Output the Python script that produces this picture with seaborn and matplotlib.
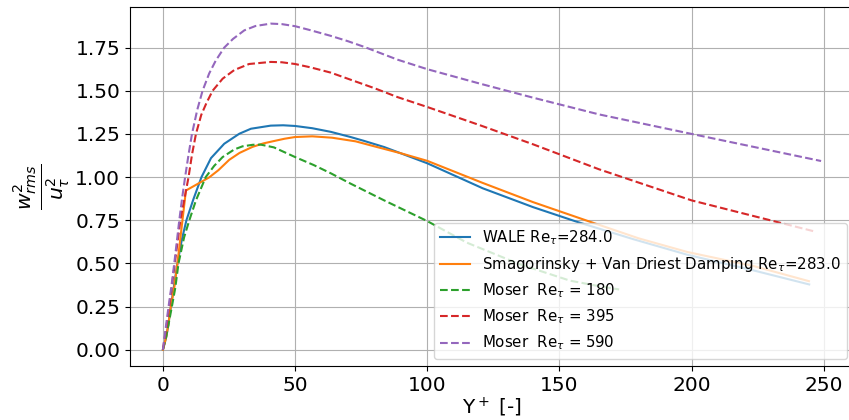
import matplotlib
matplotlib.use("Agg")
import matplotlib.pyplot as plt
import seaborn as sns

# Spanwise velocity fluctuation profiles, w_rms^2 / u_tau^2 against y+
wale_y = [0, 1.2, 2.0, 3.0, 4.3, 5.5, 7.2, 8.9, 11.5, 14.6, 18.2, 23.2, 28.9,
          33.3, 40.8, 45.5, 50.0, 56.5, 63.5, 71.0, 76.0, 83.7, 100.0, 121.0,
          140.0, 157.0, 178.0, 198.4, 223.5, 244.5]
wale_w = [0.0, 0.07, 0.14, 0.25, 0.38, 0.50, 0.64, 0.75, 0.87, 1.0, 1.11, 1.193,
          1.251, 1.28, 1.298, 1.30, 1.296, 1.283, 1.262, 1.232, 1.21, 1.174,
          1.08, 0.935, 0.826, 0.739, 0.64, 0.55, 0.459, 0.378]

smag_y = [0, 1.2, 2.0, 3.0, 4.3, 5.5, 7.4, 8.7, 13.1, 17.5, 21.0, 25.1, 29.0,
          33.9, 38.0, 41.5, 46.0, 50.0, 56.5, 64.0, 72.9, 80.0, 90.0, 100.0,
          121.0, 140.0, 162.0, 180.0, 198.4, 223.6, 244.4]
smag_w = [0.0, 0.07, 0.14, 0.25, 0.36, 0.50, 0.75, 0.922, 0.96, 0.998, 1.04,
          1.10, 1.14, 1.175, 1.195, 1.207, 1.222, 1.232, 1.236, 1.228, 1.207,
          1.178, 1.138, 1.094, 0.966, 0.855, 0.739, 0.645, 0.566, 0.484, 0.397]

m180_y = [0, 1.3, 3.4, 4.7, 5.9, 8.0, 10.0, 12.5, 16.2, 19.4, 22.6, 27.0, 30.1,
          34.0, 37.0, 42.0, 50.0, 57.0, 63.5, 71.0, 83.7, 100.0, 115.0, 135.0,
          154.0, 165.0, 172.6]
m180_w = [0.0, 0.08, 0.25, 0.36, 0.50, 0.65, 0.75, 0.865, 1.0, 1.065, 1.116,
          1.16, 1.178, 1.187, 1.188, 1.172, 1.116, 1.07, 1.022, 0.962, 0.865,
          0.745, 0.62, 0.495, 0.40, 0.368, 0.349]

m395_y = [0, 1.2, 2.4, 4.5, 6.6, 8.1, 9.7, 11.0, 12.5, 14.5, 16.5, 18.8, 22.6,
          27.0, 32.6, 40.8, 45.0, 50.0, 56.0, 63.5, 71.0, 80.0, 88.8, 100.0,
          120.0, 140.0, 165.0, 200.0, 231.0, 246.0]
m395_w = [0.0, 0.12, 0.25, 0.50, 0.75, 0.87, 1.0, 1.13, 1.25, 1.36, 1.43, 1.50,
          1.57, 1.62, 1.655, 1.667, 1.665, 1.655, 1.635, 1.605, 1.564, 1.515,
          1.463, 1.406, 1.30, 1.19, 1.045, 0.865, 0.745, 0.687]

m590_y = [0, 1.0, 2.14, 3.15, 4.3, 6.2, 7.2, 8.4, 9.7, 11.0, 13.0, 15.0, 17.5,
          20.0, 23.2, 26.5, 30.8, 35.0, 40.8, 45.0, 50.0, 56.0, 63.5, 70.0,
          76.0, 88.8, 100.0, 120.0, 140.0, 165.0, 200.0, 225.0, 249.0]
m590_w = [0.0, 0.12, 0.25, 0.36, 0.50, 0.75, 0.87, 1.0, 1.13, 1.25, 1.39, 1.50,
          1.60, 1.675, 1.75, 1.80, 1.85, 1.875, 1.889, 1.886, 1.874, 1.85,
          1.818, 1.787, 1.755, 1.68, 1.625, 1.541, 1.46, 1.363, 1.25, 1.17, 1.093]

labels = [
    r"WALE Re$_\tau$=284.0",
    r"Smagorinsky + Van Driest Damping Re$_\tau$=283.0",
    r"Moser  Re$_\tau$ = 180",
    r"Moser  Re$_\tau$ = 395",
    r"Moser  Re$_\tau$ = 590",
]

fig = plt.figure(figsize=(8.49, 4.20), dpi=100)
ax = fig.add_axes([130 / 849, 1 - 366 / 420, 724 / 849, 358.7 / 420])

series = [
    (wale_y, wale_w, "C0", "-"),
    (smag_y, smag_w, "C1", "-"),
    (m180_y, m180_w, "C2", "--"),
    (m395_y, m395_w, "C3", "--"),
    (m590_y, m590_w, "C4", "--"),
]
for (yp, w2, color, ls), lab in zip(series, labels):
    sns.lineplot(x=yp, y=w2, ax=ax, color=color, linestyle=ls, linewidth=1.5,
                 label=lab, estimator=None, sort=False)

ax.grid(True, color="#b0b0b0", linewidth=0.8)
ax.set_axisbelow(True)
ax.tick_params(labelsize=14.5)
ax.set_xticks([0, 50, 100, 150, 200, 250])
ax.set_yticks([0.0, 0.25, 0.5, 0.75, 1.0, 1.25, 1.5, 1.75])
ax.set_xlabel(r"Y$^+$ [-]", fontsize=14.5, labelpad=0.5)
ax.set_ylabel(r"$\frac{w^2_{rms}}{u^2_\tau}$", fontsize=21, labelpad=2)
ax.legend(loc="lower right", fontsize=10.8)

fig.savefig("out.png", dpi=100)
